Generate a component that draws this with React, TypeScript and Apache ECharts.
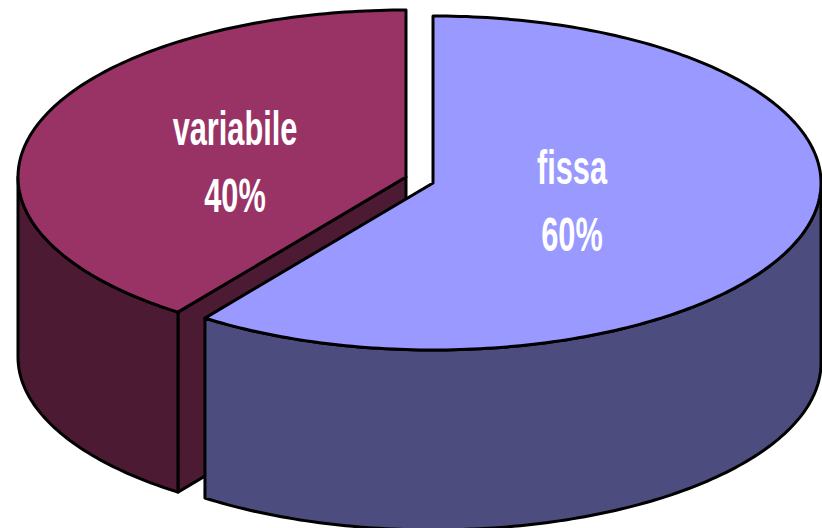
import React, { useEffect, useRef } from 'react';
import * as echarts from 'echarts';

// ---- data ----
const categories: string[] = ['fissa', 'variabile'];
const values: number[] = [60, 40];

// ---- styling ----
const topColors = ['#9999FF', '#993366'];
const sideColors = ['#4C4C7E', '#4C1A33'];

// ---- 3D pie geometry (layout) ----
const CX = 419.5;
const CY = 180;
const RX = 388;
const RY = 167;
const DEPTH = 180;
const EXPLODE = 14.2;
const EXPLODE_KY = 0.68;
const START_ANGLE = 90;
const LABEL_FRAC_X = 0.42;
const LABEL_FRAC_Y = 0.325;
const LABEL_DX = -16;
const LABEL_DY = 2;
const LINE_GAP = 67;

const rad = (d: number) => (d * Math.PI) / 180;

function renderItem(params: any, api: any) {
  const i = params.dataIndex;
  const total = values.reduce((a, b) => a + b, 0);
  let before = 0;
  for (let k = 0; k < i; k++) before += values[k];
  const v = api.value(0) as number;
  const a0 = START_ANGLE - (before / total) * 360;
  const a1 = a0 - (v / total) * 360;
  const mid = (a0 + a1) / 2;
  const cx = CX + EXPLODE * Math.cos(rad(mid));
  const cy = CY - EXPLODE * EXPLODE_KY * Math.sin(rad(mid));
  const P = (t: number, h = 0) => [cx + RX * Math.cos(rad(t)), cy - RY * Math.sin(rad(t)) + h];
  const arc = (from: number, to: number, h = 0) => {
    const n = Math.max(2, Math.ceil(Math.abs(to - from)));
    const pts: number[][] = [];
    for (let j = 0; j <= n; j++) pts.push(P(from + ((to - from) * j) / n, h));
    return pts;
  };
  const zBase = Math.round((1 - Math.sin(rad(mid))) * 10) * 10;
  const stroke = { stroke: '#000', lineWidth: 3, lineJoin: 'round' };
  const children: any[] = [];

  // radial faces
  if (Math.cos(rad(a0)) < -1e-6) {
    children.push({
      type: 'polygon',
      z2: zBase + 1,
      shape: { points: [[cx, cy], P(a0), P(a0, DEPTH), [cx, cy + DEPTH]] },
      style: { fill: sideColors[i], ...stroke },
    });
  }
  if (Math.cos(rad(a1)) > 1e-6) {
    children.push({
      type: 'polygon',
      z2: zBase + 1,
      shape: { points: [[cx, cy], P(a1), P(a1, DEPTH), [cx, cy + DEPTH]] },
      style: { fill: sideColors[i], ...stroke },
    });
  }
  // outer side (front half only)
  for (let k = -2; k <= 1; k++) {
    const lo = Math.max(a1, -180 + 360 * k);
    const hi = Math.min(a0, 360 * k);
    if (hi - lo > 1e-6) {
      children.push({
        type: 'polygon',
        z2: zBase + 2,
        shape: { points: arc(hi, lo, 0).concat(arc(lo, hi, DEPTH)) },
        style: { fill: sideColors[i], ...stroke },
      });
    }
  }
  // top face
  children.push({
    type: 'polygon',
    z2: zBase + 3,
    shape: { points: [[cx, cy]].concat(arc(a0, a1, 0)) },
    style: { fill: topColors[i], ...stroke },
  });

  // labels
  const lx = cx + LABEL_FRAC_X * RX * Math.cos(rad(mid)) + LABEL_DX;
  const ly = cy - LABEL_FRAC_Y * RY * Math.sin(rad(mid)) + LABEL_DY;
  const pct = Math.round((v / total) * 100) + '%';
  const font = 'bold 48px "Liberation Sans", Arial, sans-serif';
  children.push({
    type: 'text',
    z2: 500,
    x: lx,
    y: ly - LINE_GAP / 2,
    scaleX: 0.64,
    style: { text: categories[i], fill: '#fff', font, align: 'center', verticalAlign: 'middle' },
  });
  children.push({
    type: 'text',
    z2: 500,
    x: lx,
    y: ly + LINE_GAP / 2,
    scaleX: 0.64,
    style: { text: pct, fill: '#fff', font, align: 'center', verticalAlign: 'middle' },
  });

  return { type: 'group', children };
}

export default function App() {
  const ref = useRef<HTMLDivElement>(null);
  useEffect(() => {
    if (!ref.current) return;
    const chart = echarts.init(ref.current, null, { renderer: 'svg' });
    chart.setOption({
      animation: false,
      backgroundColor: '#ffffff',
      series: [
        {
          type: 'custom',
          coordinateSystem: 'none',
          renderItem,
          data: values.map((v, i) => ({ name: categories[i], value: [v] })),
        },
      ],
    });
    return () => chart.dispose();
  }, []);
  return (
    <div
      ref={ref}
      style={{ position: 'absolute', left: 0, top: 0, width: 822, height: 528, background: '#fff' }}
    />
  );
}
